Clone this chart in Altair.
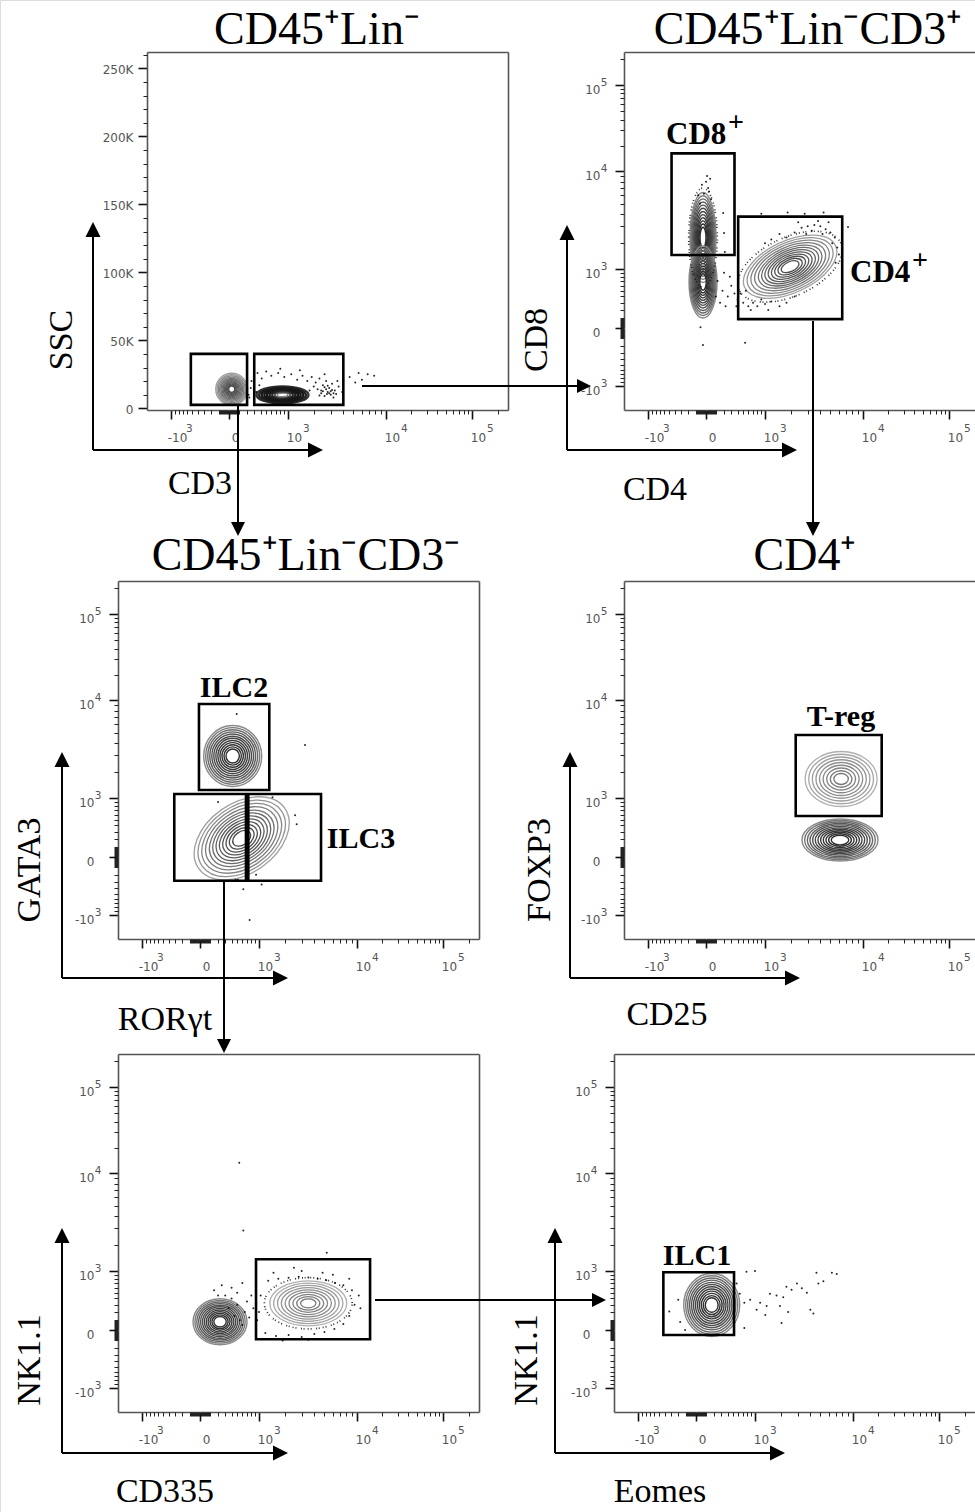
import altair as alt
import pandas as pd

CANVAS_W, CANVAS_H = 975, 1512

# ---------------- axis tick values & labels ----------------
LOG_MAJOR = [-1000, 0, 1000, 10000, 100000]
LOG_MAJOR_BASE = ["-10", "0", "10", "10", "10"]
LOG_MAJOR_EXP = ["3", "", "3", "4", "5"]
LOG_MINOR = [-900, -800, -700, -600, -500, -400, -300, -200, -100,
             -90, -80, -70, -60, -50, -40, -30, -20, -10,
             10, 20, 30, 40, 50, 60, 70, 80, 90,
             100, 200, 300, 400, 500, 600, 700, 800, 900,
             2000, 3000, 4000, 5000, 6000, 7000, 8000, 9000,
             20000, 30000, 40000, 50000, 60000, 70000, 80000, 90000, 200000]
SSC_MAJOR = [0, 50000, 100000, 150000, 200000, 250000]
SSC_MAJOR_LABELS = ["0", "50K", "100K", "150K", "200K", "250K"]
SSC_MINOR = [10000, 20000, 30000, 40000, 60000, 70000, 80000, 90000,
             110000, 120000, 130000, 140000, 160000, 170000, 180000, 190000,
             210000, 220000, 230000, 240000, 260000]

# ---------------- gates: (x0, x1, y0, y1) in data units ----------------
GATES = {
    1: [(-530, 200, 2500, 40000), (300, 4000, 2500, 40000)],
    2: [(-460, 350, 1480, 16200), (410, 6450, 90, 3740)],
    3: [(-10, 1340, 1260, 9200), (-314, 677, -283, 1124), (729, 4640, -283, 1124)],
    4: [(2260, 16650, 573, 4740)],
    5: [(919, 14300, -96, 1392)],
    6: [(-428, 515, -50, 967)],
}

# ---------------- populations: name, centre x, centre y, tone ----------------
POPS = {
    1: [("CD3-", 26, 14000, "med"), ("CD3+", 854, 9800, "black")],
    2: [("CD8 hi", -29, 2300, "dark"), ("CD8 lo", -29, 677, "dark"), ("CD4", 1970, 1070, "med")],
    3: [("ILC2", 419, 2953, "dark"), ("ILC3", 587, 208, "med")],
    4: [("Treg", 6300, 1688, "light"), ("FOXP3-", 6150, 186, "dark")],
    5: [("CD335-", 226, 83, "dark"), ("CD335+", 3490, 322, "light")],
    6: [("ILC1", 170, 296, "dark")],
}
# contour shape (outer width px, outer height px, rotation deg) -- styling
POP_SHAPE = {
    "CD3-": (32, 32, 0), "CD3+": (52, 17, 0),
    "CD8 hi": (26, 90, 0), "CD8 lo": (28, 72, 0), "CD4": (100, 52, 335),
    "ILC2": (58, 61, 0), "ILC3": (105, 70, 325),
    "Treg": (72, 55, 0), "FOXP3-": (76, 42, 0),
    "CD335-": (54, 46, 0), "CD335+": (77, 45, 0),
    "ILC1": (56, 63, 0),
}
HALO_POPS = {"CD4": 1.12, "CD335+": 1.14, "CD8 hi": 1.1}

# ---------------- individual events (x, y) ----------------
DOTS = {
    1: [(350, 26000), (420, 22000), (500, 27000), (600, 24000), (750, 26000), (900, 23000),
        (1100, 25000), (1300, 21000), (1500, 24000), (1700, 20000), (1900, 23000), (2100, 19000),
        (2300, 22000), (2500, 17000), (2700, 20000), (2900, 15000), (3100, 18000), (3300, 13000),
        (3600, 16000), (3900, 12000), (2200, 14000), (2400, 11000), (2600, 9000), (2800, 12000),
        (3000, 10000), (3200, 8000), (2000, 16000), (1800, 13000), (3500, 20000), (4000, 21000),
        (2600, 25000), (1400, 28000), (800, 29000), (380, 17000), (330, 12000),
        (4600, 23000), (5200, 19000), (6000, 21000), (6800, 25000), (7800, 24000), (5600, 26000),
        (220, 10000), (250, 15000), (260, 20000), (230, 8000),
        (2700, 14000), (2900, 11000), (3100, 13500), (2500, 12500), (3400, 10500), (2300, 9500),
        (2800, 16500), (3000, 12500), (2600, 15500), (3200, 11000), (2400, 13000), (2750, 10500)],
    2: [(-80, 6000), (-40, 7500), (0, 8000), (30, 6500), (50, 5500), (-60, 5000), (10, 9000),
        (20, 7000), (-20, 6200), (40, 8500), (188, 4070), (200, 2570), (210, 1600),
        (1800, 2300), (2200, 2600), (2600, 2900), (3000, 3000), (3500, 3100), (4000, 3000),
        (4500, 2800), (5000, 2600), (5500, 2300), (4800, 3300), (3800, 3400), (2900, 2500),
        (3300, 2700), (4200, 2500), (5200, 2000), (5800, 1800), (6000, 1500), (5600, 1200),
        (2400, 3300), (1500, 2500), (1200, 2200), (1000, 2000),
        (900, 4000), (1850, 4100), (2800, 4000), (4300, 4100), (7300, 2950),
        (400, 350), (500, 300), (600, 250), (700, 300), (800, 250), (900, 350), (1000, 280),
        (1200, 320), (450, 450), (550, 500), (380, 250), (650, 200), (1100, 200), (1500, 250),
        (1800, 300), (2200, 400),
        (120, 700), (180, 500), (250, 400), (300, 600), (150, 300), (220, 250), (350, 450),
        (280, 800), (200, 900), (100, 400), (-30, -190), (535, -160), (-55, 8)],
    3: [(490, 7450), (3240, 3800), (2570, 590), (2670, 420), (920, -200), (1080, -340),
        (620, -420), (1460, 1020), (200, 890), (760, -1150), (470, -270), (515, -270)],
    4: [],
    5: [(538, 13200), (620, 2850), (5260, 1650),
        (1300, 750), (1700, 800), (2200, 820), (2800, 850), (3500, 830), (4300, 800), (5200, 760),
        (6300, 700), (7500, 650), (1500, 950), (3000, 1000), (4800, 950), (2500, 1100), (6000, 900),
        (8500, 800), (1200, -30), (1600, -60), (2200, -50), (3000, -70), (4000, -40), (5000, -20),
        (6200, 10), (7500, 60), (1900, -110), (3500, -100), (8500, 150),
        (1000, 200), (1050, 450), (9500, 300), (10500, 450), (11000, 250), (9000, 550),
        (450, 150), (550, 100), (650, 200), (750, 130), (850, 250), (500, 300), (600, 50),
        (700, 350), (950, 100), (400, 400), (350, 250), (300, 450), (800, 450),
        (150, 550), (250, 650), (400, 600), (600, 700), (200, 450), (500, 500)],
    6: [(780, 980), (1000, 1000), (565, 690), (630, 480), (730, 330), (870, 380), (1160, 330),
        (1050, 230), (1390, 280), (1340, 160), (1520, 480), (1800, 450), (2130, 420), (2300, 620),
        (2600, 560), (2950, 690), (3300, 590), (3700, 500), (1960, 280), (2400, 200), (2040, 70),
        (4000, 230), (4580, 950), (5330, 740), (6400, 950), (7100, 920), (4780, 690), (4280, 180),
        (730, 20), (-330, 205), (-175, 80), (-115, 0), (-200, 380)],
}

# ---------------- text ----------------
TITLES = ["CD45⁺Lin⁻", "CD45⁺Lin⁻CD3⁺", "CD45⁺Lin⁻CD3⁻", "CD4⁺"]
X_LABELS = ["CD3", "CD4", "RORγt", "CD25", "CD335", "Eomes"]
Y_LABELS = ["SSC", "CD8", "GATA3", "FOXP3", "NK1.1", "NK1.1"]
GATE_LABELS = ["CD8", "CD4", "ILC2", "ILC3", "T-reg", "ILC1"]

# ================= layout / style =================
PANELS = [
    dict(id=1, left=147, bottom=410, ylin=True, right=True),
    dict(id=2, left=624, bottom=410, ylin=False, right=False),
    dict(id=3, left=118, bottom=939, ylin=False, right=True),
    dict(id=4, left=624, bottom=939, ylin=False, right=False),
    dict(id=5, left=118, bottom=1412, ylin=False, right=True),
    dict(id=6, left=614, bottom=1412, ylin=False, right=False),
]
PW, PH = 361, 358
LOG_DOMAIN_X = [-1860, -1000, 0, 1000, 10000, 100000, 258000]
LOG_DOMAIN_Y = [-1860, -1000, 0, 1000, 10000, 100000, 238000]
OFF_X = [0, 24, 82, 141, 239, 325, 361]
OFF_Y = [0, 24, 82, 141, 239, 325, 358]

# ring scale, ring colour, ring stroke width
TONES = {
    "light": ([1.0, 0.9, 0.8, 0.7, 0.6, 0.5, 0.4, 0.3, 0.2],
              ["#b0b0b0", "#a6a6a6", "#9d9d9d", "#959595", "#8e8e8e", "#888888", "#828282", "#7c7c7c", "#777777"],
              [1.3] * 9),
    "med": ([1.0, 0.92, 0.84, 0.76, 0.68, 0.61, 0.54, 0.47, 0.4, 0.33, 0.26, 0.19],
            ["#a0a0a0", "#939393", "#878787", "#7c7c7c", "#727272", "#6a6a6a", "#636363", "#5c5c5c",
             "#565656", "#515151", "#4d4d4d", "#4a4a4a"],
            [1.3] * 12),
    "dark": ([1.0, 0.93, 0.86, 0.79, 0.72, 0.65, 0.58, 0.51, 0.44, 0.37, 0.3, 0.23],
             ["#8a8a8a", "#777777", "#686868", "#5c5c5c", "#525252", "#4a4a4a", "#434343", "#3d3d3d",
              "#383838", "#343434", "#303030", "#2c2c2c"],
             [1.4] * 12),
    "black": ([1.0, 0.9, 0.8, 0.7, 0.6, 0.5, 0.4, 0.3, 0.2],
              ["#333333", "#222222", "#1a1a1a", "#161616", "#161616", "#1a1a1a", "#222222", "#444444", "#888888"],
              [2.4, 2.4, 2.4, 2.4, 2.4, 2.2, 2.0, 1.6, 1.2]),
}

SERIF = "Liberation Serif"
TICK_FONT = "DejaVu Sans"
TICK_LABEL_COLOR = "#555555"
FRAME_COLOR = "#555555"


def ellipse_path(aspect):
    k = round(aspect, 4)
    return f"M -1 0 A 1 {k} 0 1 1 1 0 A 1 {k} 0 1 1 -1 0 Z"


def label_expr(vals, labels):
    expr = "''"
    for v, l in reversed(list(zip(vals, labels))):
        expr = f"datum.value == {v} ? '{l}' : {expr}"
    return expr


def xscale(left):
    return alt.Scale(type="symlog", constant=500, domain=LOG_DOMAIN_X,
                     range=[left + o for o in OFF_X], nice=False, zero=False)


def yscale(p):
    if p["ylin"]:
        return alt.Scale(type="linear", domain=[-1250, 262000],
                         range=[p["bottom"], p["bottom"] - PH], nice=False, zero=False)
    return alt.Scale(type="symlog", constant=500, domain=LOG_DOMAIN_Y,
                     range=[p["bottom"] - o for o in OFF_Y], nice=False, zero=False)


def base_axis(orient, offset, vals, labels, padding, loff):
    return alt.Axis(orient=orient, offset=offset, values=vals, labelExpr=label_expr(vals, labels),
                    tickSize=9, tickWidth=1.6, tickColor="#111111", domain=True,
                    domainColor=FRAME_COLOR, domainWidth=1.6, labelFont=TICK_FONT,
                    labelFontSize=12, labelColor=TICK_LABEL_COLOR, labelFlush=False,
                    labelOverlap=False, grid=False, title=None,
                    labelAlign="center" if orient == "bottom" else "right",
                    labelBaseline="top" if orient == "bottom" else "middle",
                    labelPadding=padding, labelOffset=loff)


def exp_axis(orient, offset, vals, labels, padding, loff):
    return alt.Axis(orient=orient, offset=offset, values=vals, labelExpr=label_expr(vals, labels),
                    ticks=False, tickSize=0, domain=False, labelFont=TICK_FONT,
                    labelFontSize=10.5, labelColor=TICK_LABEL_COLOR, labelFlush=False,
                    labelOverlap=False, grid=False, title=None,
                    labelAlign="left" if orient == "bottom" else "right",
                    labelBaseline="top" if orient == "bottom" else "middle",
                    labelPadding=padding, labelOffset=loff)


def minor_axis(orient, offset, vals):
    return alt.Axis(orient=orient, offset=offset, values=vals, labels=False, domain=False,
                    tickSize=4, tickWidth=1, tickColor="#222222", grid=False, title=None)


def frame_axis(orient, offset):
    return alt.Axis(orient=orient, offset=offset, ticks=False, labels=False, domain=True,
                    domainColor=FRAME_COLOR, domainWidth=1.6, grid=False, title=None)


DUMMY = pd.DataFrame({"x": [0.0], "y": [0.0]})
layers = []
X_EXP = ["\u2009" + e if b.startswith("-") else e for b, e in zip(LOG_MAJOR_BASE, LOG_MAJOR_EXP)]

for p in PANELS:
    pid = p["id"]
    xs, ys = xscale(p["left"]), yscale(p)
    top = p["bottom"] - PH
    right = p["left"] + PW

    # contours
    rows, halo = [], []
    for name, cx, cy, tone in POPS[pid]:
        w, h, ang = POP_SHAPE[name]
        for s, col, sw in zip(*TONES[tone]):
            rows.append(dict(x=cx, y=cy, size=(w * s) ** 2, shp=ellipse_path(h / w), ang=ang, col=col, sw=sw))
        if name in HALO_POPS:
            s = HALO_POPS[name]
            halo.append(dict(x=cx, y=cy, size=(w * s) ** 2, shp=ellipse_path(h / w), ang=ang))
    layers.append(alt.Chart(pd.DataFrame(rows)).mark_point(filled=False, opacity=1).encode(
        x=alt.X("x:Q", scale=xs, axis=None), y=alt.Y("y:Q", scale=ys, axis=None),
        size=alt.Size("size:Q", scale=None), shape=alt.Shape("shp:N", scale=None),
        angle=alt.Angle("ang:Q", scale=None), color=alt.Color("col:N", scale=None),
        strokeWidth=alt.StrokeWidth("sw:Q", scale=None)))
    if halo:
        layers.append(alt.Chart(pd.DataFrame(halo)).mark_point(
            filled=False, strokeWidth=1.7, opacity=0.85, color="#111111",
            strokeDash=[1, 3, 1, 1.6, 1, 4.5, 1, 2]).encode(
            x=alt.X("x:Q", scale=xs, axis=None), y=alt.Y("y:Q", scale=ys, axis=None),
            size=alt.Size("size:Q", scale=None), shape=alt.Shape("shp:N", scale=None),
            angle=alt.Angle("ang:Q", scale=None)))
    # events
    if DOTS[pid]:
        d = pd.DataFrame(DOTS[pid], columns=["x", "y"])
        layers.append(alt.Chart(d).mark_circle(size=4, color="#000000", opacity=0.85).encode(
            x=alt.X("x:Q", scale=xs, axis=None), y=alt.Y("y:Q", scale=ys, axis=None)))
    # gates
    g = pd.DataFrame(GATES[pid], columns=["x0", "x1", "y0", "y1"])
    layers.append(alt.Chart(g).mark_rect(fillOpacity=0, stroke="#000000", strokeWidth=2.6).encode(
        x=alt.X("x0:Q", scale=xs, axis=None), x2="x1:Q",
        y=alt.Y("y0:Q", scale=ys, axis=None), y2="y1:Q"))

    # axes
    xoff, yoff = p["bottom"] - CANVAS_H, -p["left"]
    xbase = base_axis("bottom", xoff, LOG_MAJOR, LOG_MAJOR_BASE, 13, 6)
    xexp = exp_axis("bottom", xoff, LOG_MAJOR, X_EXP, 13, 14.5)
    xmin = minor_axis("bottom", xoff, LOG_MINOR)
    if p["ylin"]:
        ybase = base_axis("left", yoff, SSC_MAJOR, SSC_MAJOR_LABELS, 5, 1)
        yexp = None
        ymin = minor_axis("left", yoff, SSC_MINOR)
    else:
        ybase = base_axis("left", yoff, LOG_MAJOR, LOG_MAJOR_BASE, 15, 4)
        yexp = exp_axis("left", yoff, LOG_MAJOR, LOG_MAJOR_EXP, 17, -3)
        ymin = minor_axis("left", yoff, LOG_MINOR)
    carriers = [(xbase, ybase), (xexp, yexp), (xmin, ymin),
                (frame_axis("top", -top), frame_axis("right", right - CANVAS_W) if p["right"] else None)]
    for xa, ya in carriers:
        layers.append(alt.Chart(DUMMY).mark_point(opacity=0).encode(
            x=alt.X("x:Q", scale=xs, axis=xa), y=alt.Y("y:Q", scale=ys, axis=ya)))


def text(t, x, y, size, bold=False, angle=None, align="center", baseline="alphabetic"):
    kw = dict(font=SERIF, fontSize=size, color="#000000", align=align, baseline=baseline,
              fontWeight="bold" if bold else "normal")
    if angle is not None:
        kw["angle"] = angle
    return alt.Chart().mark_text(**kw).encode(x=alt.value(x), y=alt.value(y), text=alt.value(t))


def line(x1, y1, x2, y2):
    return alt.Chart().mark_rule(color="#000000", strokeWidth=2).encode(
        x=alt.value(x1), y=alt.value(y1), x2=alt.value(x2), y2=alt.value(y2))


HEAD = "M 0 -1 L 1 1 L -1 1 Z"


def head(x, y, direction, size=15):
    ang = {"up": 0, "right": 90, "down": 180}[direction]
    h = size / 2
    cx, cy = {"up": (x, y + h), "right": (x - h, y), "down": (x, y - h)}[direction]
    return alt.Chart().mark_point(shape=HEAD, filled=True, color="#000000", opacity=1,
                                  size=size * size, angle=ang).encode(x=alt.value(cx), y=alt.value(cy))


# panel titles
for t, (x, y) in zip(TITLES, [(317, 44), (808, 44), (306, 570), (805, 570)]):
    layers.append(text(t, x, y, 46))

# L-shaped parameter arrows with labels
L_ARROWS = [(93, 450, 222, 323), (567, 450, 225, 797), (62, 978, 752, 288),
            (570, 978, 752, 800), (62, 1453, 1228, 288), (555, 1453, 1228, 785)]
X_LAB_POS = [(200, 484), (655, 490), (165, 1020), (667, 1015), (165, 1492), (660, 1492)]
Y_LAB_POS = [(62, 340), (537, 340), (30, 870), (540, 870), (30, 1360), (527, 1360)]
for (vx, hy, ytip, xtip), xl, yl, xp, yp in zip(L_ARROWS, X_LABELS, Y_LABELS, X_LAB_POS, Y_LAB_POS):
    layers.append(line(vx, hy, vx, ytip + 8))
    layers.append(line(vx, hy, xtip - 8, hy))
    layers.append(head(vx, ytip, "up"))
    layers.append(head(xtip, hy, "right"))
    layers.append(text(xl, xp[0], xp[1], 34, baseline="middle"))
    layers.append(text(yl, yp[0], yp[1], 34, angle=270, baseline="middle"))

# gating flow arrows
FLOW = [((362, 386), (591, 386), "right"), ((238, 405), (238, 536), "down"),
        ((813, 321), (813, 536), "down"), ((224, 880), (224, 1053), "down"),
        ((375, 1300), (606, 1300), "right")]
for (x1, y1), (x2, y2), dr in FLOW:
    if dr == "right":
        layers.append(line(x1, y1, x2 - 7, y2))
    else:
        layers.append(line(x1, y1, x2, y2 - 7))
    layers.append(head(x2, y2, dr, size=14))

# gate labels
GATE_LAB_POS = [(666, 144), (850, 282), (234, 697), (361, 848), (841, 726), (697, 1265)]
for t, (x, y) in zip(GATE_LABELS, GATE_LAB_POS):
    if t in ("CD8", "CD4"):
        layers.append(text(t, x, y, 31, bold=True, align="left"))
        layers.append(text("+", x + 62, y - 13, 28, bold=True, align="left"))
    else:
        layers.append(text(t, x, y, 30, bold=True))

chart = alt.layer(*layers).resolve_scale(x="independent", y="independent").properties(
    width=CANVAS_W, height=CANVAS_H, autosize=alt.AutoSizeParams(type="none"), padding=0
).configure_view(stroke=None).configure(background="white")

chart.save("out.html", embed_options={"renderer": "svg", "actions": False})
